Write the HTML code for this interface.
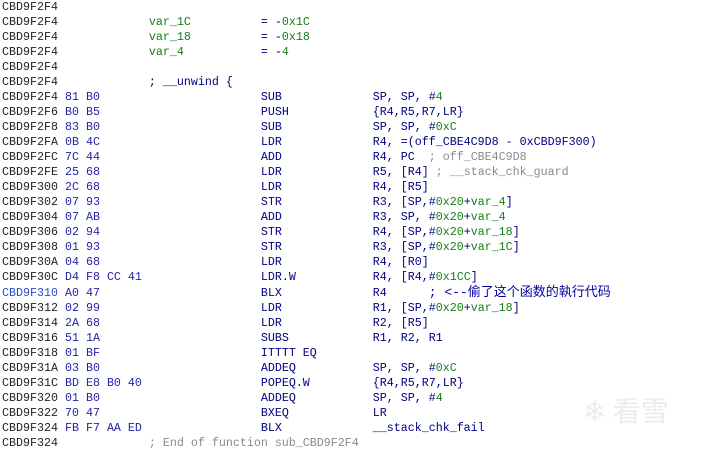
<!DOCTYPE html>
<html><head><meta charset="utf-8"><style>
html,body{margin:0;padding:0;background:#fff;width:702px;height:451px;overflow:hidden}
pre{margin:0;position:absolute;left:2px;top:0;font-family:"Liberation Mono","DejaVu Sans Mono","Noto Sans CJK SC",monospace;font-size:11.67px;line-height:15px;color:#000080;}
.a{color:#222}.b{color:#2424a8}.g{color:#188018}.c{color:#8a8a8a}.h{color:#2a4ad0}
.cn{font-family:"Liberation Mono","Noto Sans CJK SC",sans-serif;color:#0000a0;font-size:13px}
.wm{position:absolute;left:583px;top:390px;font-family:"Noto Sans CJK SC",sans-serif;font-size:28px;color:#ececec}
</style></head><body>
<div class="wm">❄ 看雪</div>
<pre><span class="a">CBD9F2F4</span>
<span class="a">CBD9F2F4</span>             <span class="g">var_1C</span>          = -<span class="g">0x1C</span>
<span class="a">CBD9F2F4</span>             <span class="g">var_18</span>          = -<span class="g">0x18</span>
<span class="a">CBD9F2F4</span>             <span class="g">var_4</span>           = -<span class="g">4</span>
<span class="a">CBD9F2F4</span>
<span class="a">CBD9F2F4</span>             ; __unwind {
<span class="a">CBD9F2F4</span> <span class="b">81 B0</span>                       SUB             SP, SP, #<span class="g">4</span>
<span class="a">CBD9F2F6</span> <span class="b">B0 B5</span>                       PUSH            {R4,R5,R7,LR}
<span class="a">CBD9F2F8</span> <span class="b">83 B0</span>                       SUB             SP, SP, #<span class="g">0xC</span>
<span class="a">CBD9F2FA</span> <span class="b">0B 4C</span>                       LDR             R4, =(off_CBE4C9D8 - 0xCBD9F300)
<span class="a">CBD9F2FC</span> <span class="b">7C 44</span>                       ADD             R4, PC  <span class="c">; off_CBE4C9D8</span>
<span class="a">CBD9F2FE</span> <span class="b">25 68</span>                       LDR             R5, [R4] <span class="c">; __stack_chk_guard</span>
<span class="a">CBD9F300</span> <span class="b">2C 68</span>                       LDR             R4, [R5]
<span class="a">CBD9F302</span> <span class="b">07 93</span>                       STR             R3, [SP,#<span class="g">0x20</span>+<span class="g">var_4</span>]
<span class="a">CBD9F304</span> <span class="b">07 AB</span>                       ADD             R3, SP, #<span class="g">0x20</span>+<span class="g">var_4</span>
<span class="a">CBD9F306</span> <span class="b">02 94</span>                       STR             R4, [SP,#<span class="g">0x20</span>+<span class="g">var_18</span>]
<span class="a">CBD9F308</span> <span class="b">01 93</span>                       STR             R3, [SP,#<span class="g">0x20</span>+<span class="g">var_1C</span>]
<span class="a">CBD9F30A</span> <span class="b">04 68</span>                       LDR             R4, [R0]
<span class="a">CBD9F30C</span> <span class="b">D4 F8 CC 41</span>                 LDR.W           R4, [R4,#<span class="g">0x1CC</span>]
<span class="h">CBD9F310</span> <span class="b">A0 47</span>                       BLX             R4      <span class="cn">; &lt;--偷了这个函数的執行代码</span>
<span class="a">CBD9F312</span> <span class="b">02 99</span>                       LDR             R1, [SP,#<span class="g">0x20</span>+<span class="g">var_18</span>]
<span class="a">CBD9F314</span> <span class="b">2A 68</span>                       LDR             R2, [R5]
<span class="a">CBD9F316</span> <span class="b">51 1A</span>                       SUBS            R1, R2, R1
<span class="a">CBD9F318</span> <span class="b">01 BF</span>                       ITTTT EQ
<span class="a">CBD9F31A</span> <span class="b">03 B0</span>                       ADDEQ           SP, SP, #<span class="g">0xC</span>
<span class="a">CBD9F31C</span> <span class="b">BD E8 B0 40</span>                 POPEQ.W         {R4,R5,R7,LR}
<span class="a">CBD9F320</span> <span class="b">01 B0</span>                       ADDEQ           SP, SP, #<span class="g">4</span>
<span class="a">CBD9F322</span> <span class="b">70 47</span>                       BXEQ            LR
<span class="a">CBD9F324</span> <span class="b">FB F7 AA ED</span>                 BLX             __stack_chk_fail
<span class="a">CBD9F324</span>             <span class="c">; End of function sub_CBD9F2F4</span></pre>
</body></html>
